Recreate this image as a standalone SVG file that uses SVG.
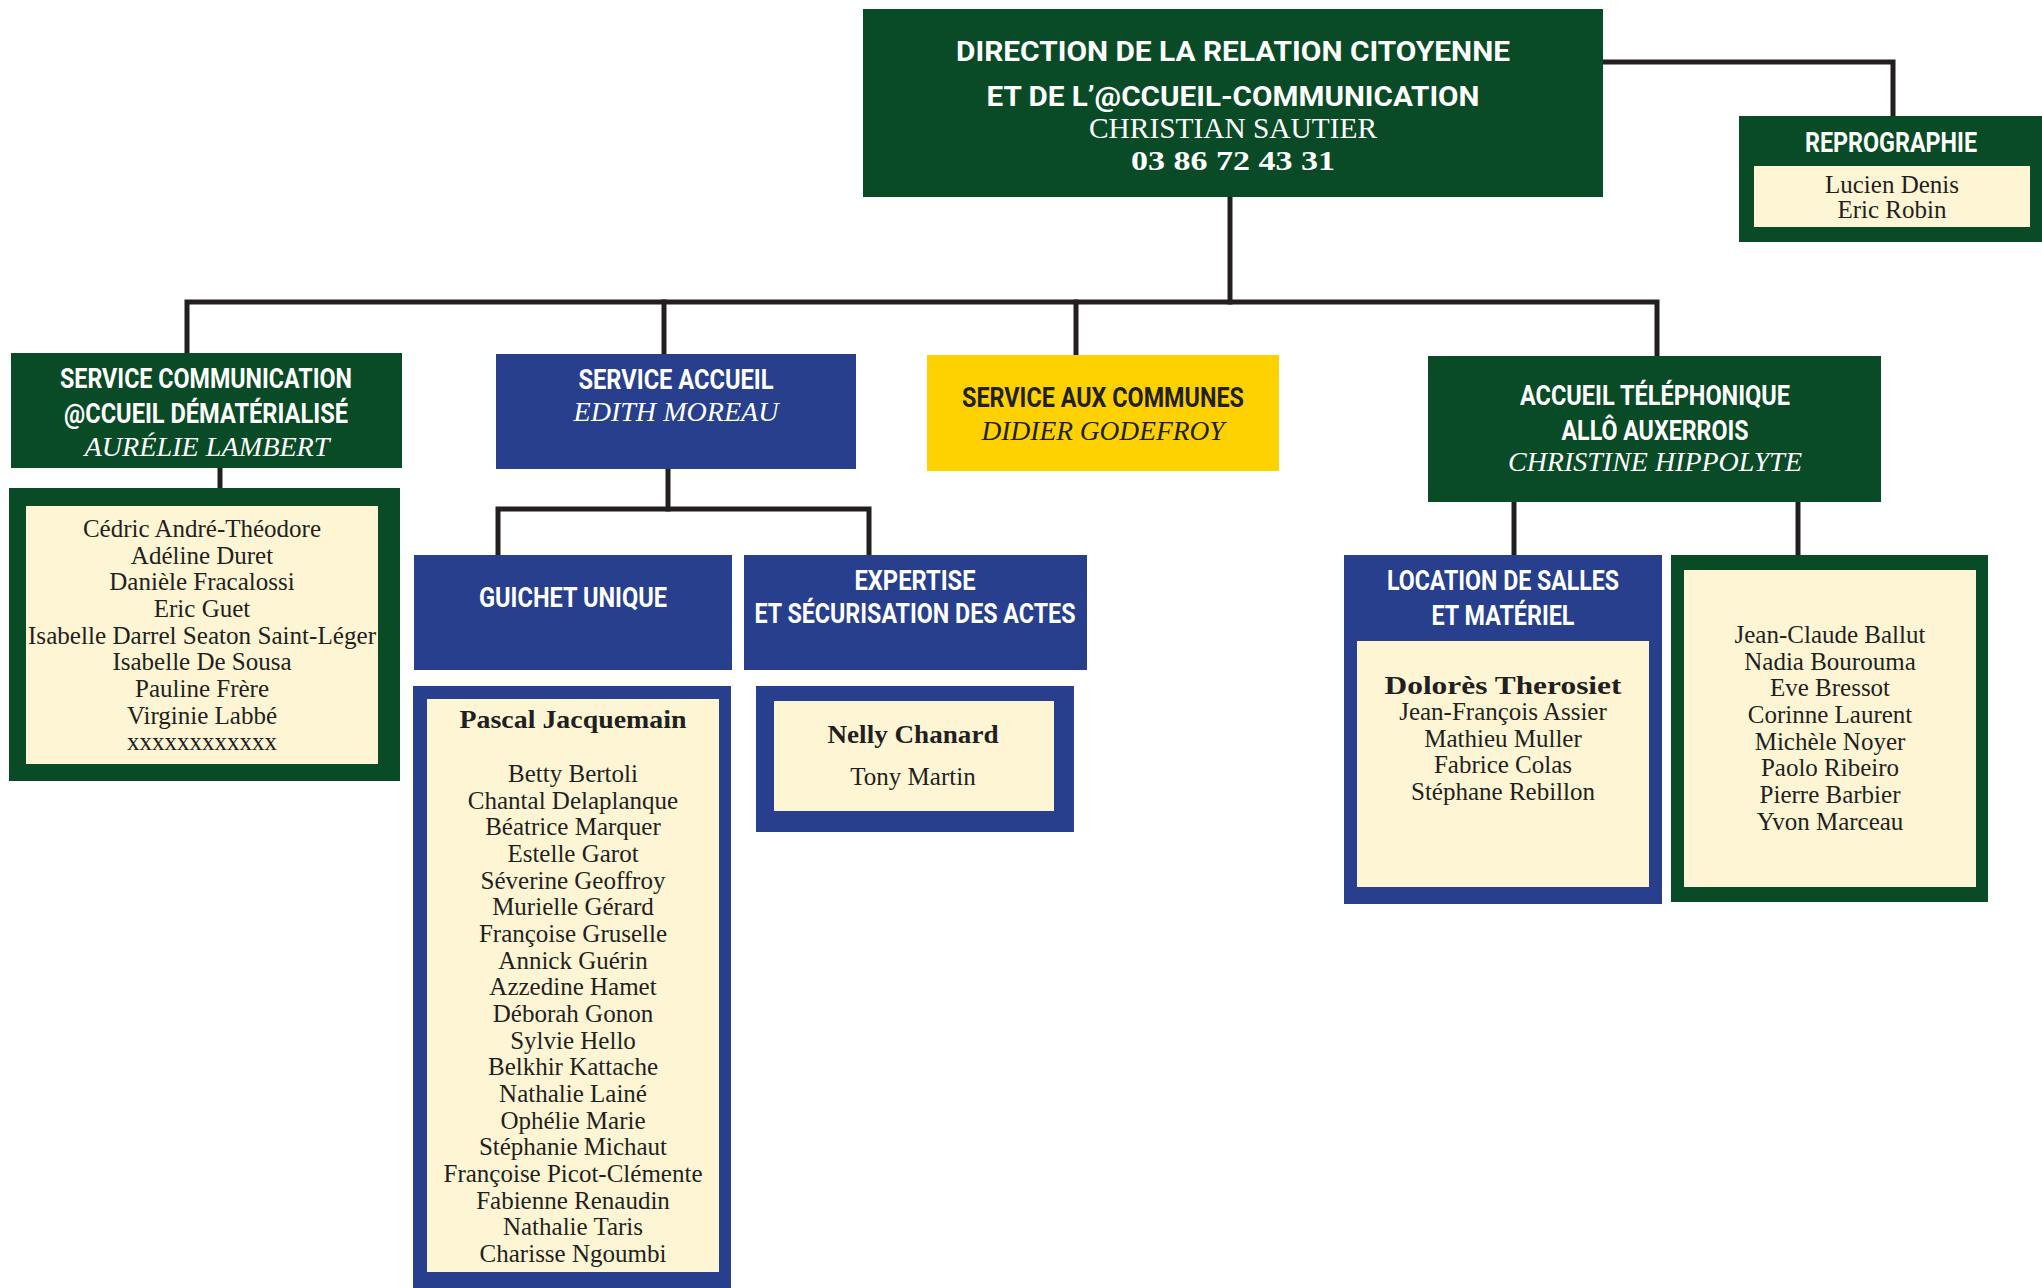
<svg xmlns="http://www.w3.org/2000/svg" width="2042" height="1288" viewBox="0 0 2042 1288">
  <style>
    .green { fill: #094b26; }
    .blue { fill: #273f8d; }
    .yellow { fill: #fdd200; }
    .cream { fill: #fef5d4; }
    .hd { font-family: Roboto, "DejaVu Sans", sans-serif; font-weight: 700; font-size: 28px; text-anchor: middle; }
    .lead { font-family: "Liberation Serif", serif; font-style: italic; font-size: 28px; text-anchor: middle; }
    .nm { font-family: "Liberation Serif", serif; font-size: 25px; text-anchor: middle; fill: #231f20; }
    .nb { font-family: "Liberation Serif", serif; font-weight: 700; font-size: 26px; text-anchor: middle; fill: #231f20; }
    .w { fill: #ffffff; }
    .d { fill: #231f20; }
    .link { fill: none; stroke: #231f20; stroke-width: 5; stroke-linecap: square; }
  </style>

  <!-- connectors -->
  <g id="connectors" class="link">
    <path d="M1603 62 H1893 V116"/>
    <path d="M1230 197 V302"/>
    <path d="M187 355 V302 H1657 V356"/>
    <path d="M664 302 V354"/>
    <path d="M1076 302 V355"/>
    <path d="M220 468 V488"/>
    <path d="M668 469 V509"/>
    <path d="M498 555 V509 H869 V555"/>
    <path d="M1514 502 V555"/>
    <path d="M1798 502 V555"/>
  </g>

  <!-- direction -->
  <g id="direction">
    <rect class="green" x="863" y="9" width="740" height="188"/>
    <text class="hd w" x="1233" y="61" font-size="34" textLength="554" lengthAdjust="spacingAndGlyphs">DIRECTION DE LA RELATION CITOYENNE</text>
    <text class="hd w" x="1233" y="106" font-size="34" textLength="493" lengthAdjust="spacingAndGlyphs">ET DE L’@CCUEIL-COMMUNICATION</text>
    <text class="w" x="1233" y="138" font-family="Liberation Serif, serif" font-size="29" text-anchor="middle" textLength="288" lengthAdjust="spacingAndGlyphs">CHRISTIAN SAUTIER</text>
    <text class="w" x="1233" y="170" font-family="Liberation Serif, serif" font-weight="700" font-size="28" text-anchor="middle" textLength="204" lengthAdjust="spacingAndGlyphs">03 86 72 43 31</text>
  </g>

  <!-- reprographie -->
  <g id="reprographie">
    <rect class="green" x="1739" y="116" width="303" height="126"/>
    <rect class="cream" x="1754" y="166" width="276" height="61"/>
    <text class="hd w" x="1891" y="152" textLength="172" lengthAdjust="spacingAndGlyphs">REPROGRAPHIE</text>
    <text class="nm" x="1892" y="193">Lucien Denis</text>
    <text class="nm" x="1892" y="218">Eric Robin</text>
  </g>

  <!-- service communication -->
  <g id="service-communication">
    <rect class="green" x="11" y="353" width="391" height="115"/>
    <text class="hd w" x="206" y="388" textLength="292" lengthAdjust="spacingAndGlyphs">SERVICE COMMUNICATION</text>
    <text class="hd w" x="206" y="423" textLength="284" lengthAdjust="spacingAndGlyphs">@CCUEIL DÉMATÉRIALISÉ</text>
    <text class="lead w" x="207" y="456" textLength="245" lengthAdjust="spacingAndGlyphs">AURÉLIE LAMBERT</text>
  </g>
  <g id="equipe-communication">
    <rect class="green" x="9" y="488" width="391" height="293"/>
    <rect class="cream" x="26" y="506" width="352" height="258"/>
    <text class="nm" x="202" y="537">Cédric André-Théodore</text>
    <text class="nm" x="202" y="563.7">Adéline Duret</text>
    <text class="nm" x="202" y="590.3">Danièle Fracalossi</text>
    <text class="nm" x="202" y="617">Eric Guet</text>
    <text class="nm" x="202" y="643.7" textLength="348" lengthAdjust="spacingAndGlyphs">Isabelle Darrel Seaton Saint-Léger</text>
    <text class="nm" x="202" y="670.3">Isabelle De Sousa</text>
    <text class="nm" x="202" y="697">Pauline Frère</text>
    <text class="nm" x="202" y="723.7">Virginie Labbé</text>
    <text class="nm" x="202" y="750.3">xxxxxxxxxxxx</text>
  </g>

  <!-- service accueil -->
  <g id="service-accueil">
    <rect class="blue" x="496" y="354" width="360" height="115"/>
    <text class="hd w" x="676" y="389" textLength="195" lengthAdjust="spacingAndGlyphs">SERVICE ACCUEIL</text>
    <text class="lead w" x="676" y="421" textLength="205" lengthAdjust="spacingAndGlyphs">EDITH MOREAU</text>
  </g>

  <!-- guichet unique -->
  <g id="guichet-unique">
    <rect class="blue" x="414" y="555" width="318" height="115"/>
    <text class="hd w" x="573" y="607" textLength="188" lengthAdjust="spacingAndGlyphs">GUICHET UNIQUE</text>
  </g>
  <g id="equipe-guichet">
    <rect class="blue" x="413" y="686" width="318" height="602"/>
    <rect class="cream" x="427" y="699" width="292" height="573"/>
    <text class="nb" x="573" y="728" textLength="227" lengthAdjust="spacingAndGlyphs">Pascal Jacquemain</text>
    <text class="nm" x="573" y="782">Betty Bertoli</text>
    <text class="nm" x="573" y="808.7">Chantal Delaplanque</text>
    <text class="nm" x="573" y="835.3">Béatrice Marquer</text>
    <text class="nm" x="573" y="862">Estelle Garot</text>
    <text class="nm" x="573" y="888.7">Séverine Geoffroy</text>
    <text class="nm" x="573" y="915.3">Murielle Gérard</text>
    <text class="nm" x="573" y="942">Françoise Gruselle</text>
    <text class="nm" x="573" y="968.7">Annick Guérin</text>
    <text class="nm" x="573" y="995.3">Azzedine Hamet</text>
    <text class="nm" x="573" y="1022">Déborah Gonon</text>
    <text class="nm" x="573" y="1048.7">Sylvie Hello</text>
    <text class="nm" x="573" y="1075.3">Belkhir Kattache</text>
    <text class="nm" x="573" y="1102">Nathalie Lainé</text>
    <text class="nm" x="573" y="1128.7">Ophélie Marie</text>
    <text class="nm" x="573" y="1155.3">Stéphanie Michaut</text>
    <text class="nm" x="573" y="1182">Françoise Picot-Clémente</text>
    <text class="nm" x="573" y="1208.7">Fabienne Renaudin</text>
    <text class="nm" x="573" y="1235.3">Nathalie Taris</text>
    <text class="nm" x="573" y="1262">Charisse Ngoumbi</text>
  </g>

  <!-- expertise -->
  <g id="expertise">
    <rect class="blue" x="744" y="555" width="343" height="115"/>
    <text class="hd w" x="915" y="590" textLength="121" lengthAdjust="spacingAndGlyphs">EXPERTISE</text>
    <text class="hd w" x="915" y="623" textLength="321" lengthAdjust="spacingAndGlyphs">ET SÉCURISATION DES ACTES</text>
  </g>
  <g id="equipe-expertise">
    <rect class="blue" x="756" y="686" width="318" height="146"/>
    <rect class="cream" x="774" y="701" width="280" height="110"/>
    <text class="nb" x="913" y="743" textLength="171" lengthAdjust="spacingAndGlyphs">Nelly Chanard</text>
    <text class="nm" x="913" y="785">Tony Martin</text>
  </g>

  <!-- service aux communes -->
  <g id="service-communes">
    <rect class="yellow" x="927" y="355" width="352" height="116"/>
    <text class="hd d" x="1103" y="407" textLength="282" lengthAdjust="spacingAndGlyphs">SERVICE AUX COMMUNES</text>
    <text class="lead d" x="1103" y="440" textLength="243" lengthAdjust="spacingAndGlyphs">DIDIER GODEFROY</text>
  </g>

  <!-- accueil telephonique -->
  <g id="accueil-telephonique">
    <rect class="green" x="1428" y="356" width="453" height="146"/>
    <text class="hd w" x="1655" y="405" textLength="270" lengthAdjust="spacingAndGlyphs">ACCUEIL TÉLÉPHONIQUE</text>
    <text class="hd w" x="1655" y="440" textLength="187" lengthAdjust="spacingAndGlyphs">ALLÔ AUXERROIS</text>
    <text class="lead w" x="1655" y="471" textLength="294" lengthAdjust="spacingAndGlyphs">CHRISTINE HIPPOLYTE</text>
  </g>

  <!-- location de salles -->
  <g id="location-salles">
    <rect class="blue" x="1344" y="555" width="318" height="349"/>
    <rect class="cream" x="1357" y="641" width="292" height="246"/>
    <text class="hd w" x="1503" y="590" textLength="232" lengthAdjust="spacingAndGlyphs">LOCATION DE SALLES</text>
    <text class="hd w" x="1503" y="625" textLength="143" lengthAdjust="spacingAndGlyphs">ET MATÉRIEL</text>
    <text class="nb" x="1503" y="694" font-size="28" textLength="237" lengthAdjust="spacingAndGlyphs">Dolorès Therosiet</text>
    <text class="nm" x="1503" y="720">Jean-François Assier</text>
    <text class="nm" x="1503" y="746.7">Mathieu Muller</text>
    <text class="nm" x="1503" y="773.3">Fabrice Colas</text>
    <text class="nm" x="1503" y="800">Stéphane Rebillon</text>
  </g>

  <!-- equipe accueil telephonique -->
  <g id="equipe-telephonique">
    <rect class="green" x="1671" y="555" width="317" height="347"/>
    <rect class="cream" x="1684" y="570" width="292" height="317"/>
    <text class="nm" x="1830" y="643">Jean-Claude Ballut</text>
    <text class="nm" x="1830" y="669.7">Nadia Bourouma</text>
    <text class="nm" x="1830" y="696.3">Eve Bressot</text>
    <text class="nm" x="1830" y="723">Corinne Laurent</text>
    <text class="nm" x="1830" y="749.7">Michèle Noyer</text>
    <text class="nm" x="1830" y="776.3">Paolo Ribeiro</text>
    <text class="nm" x="1830" y="803">Pierre Barbier</text>
    <text class="nm" x="1830" y="829.7">Yvon Marceau</text>
  </g>
</svg>
